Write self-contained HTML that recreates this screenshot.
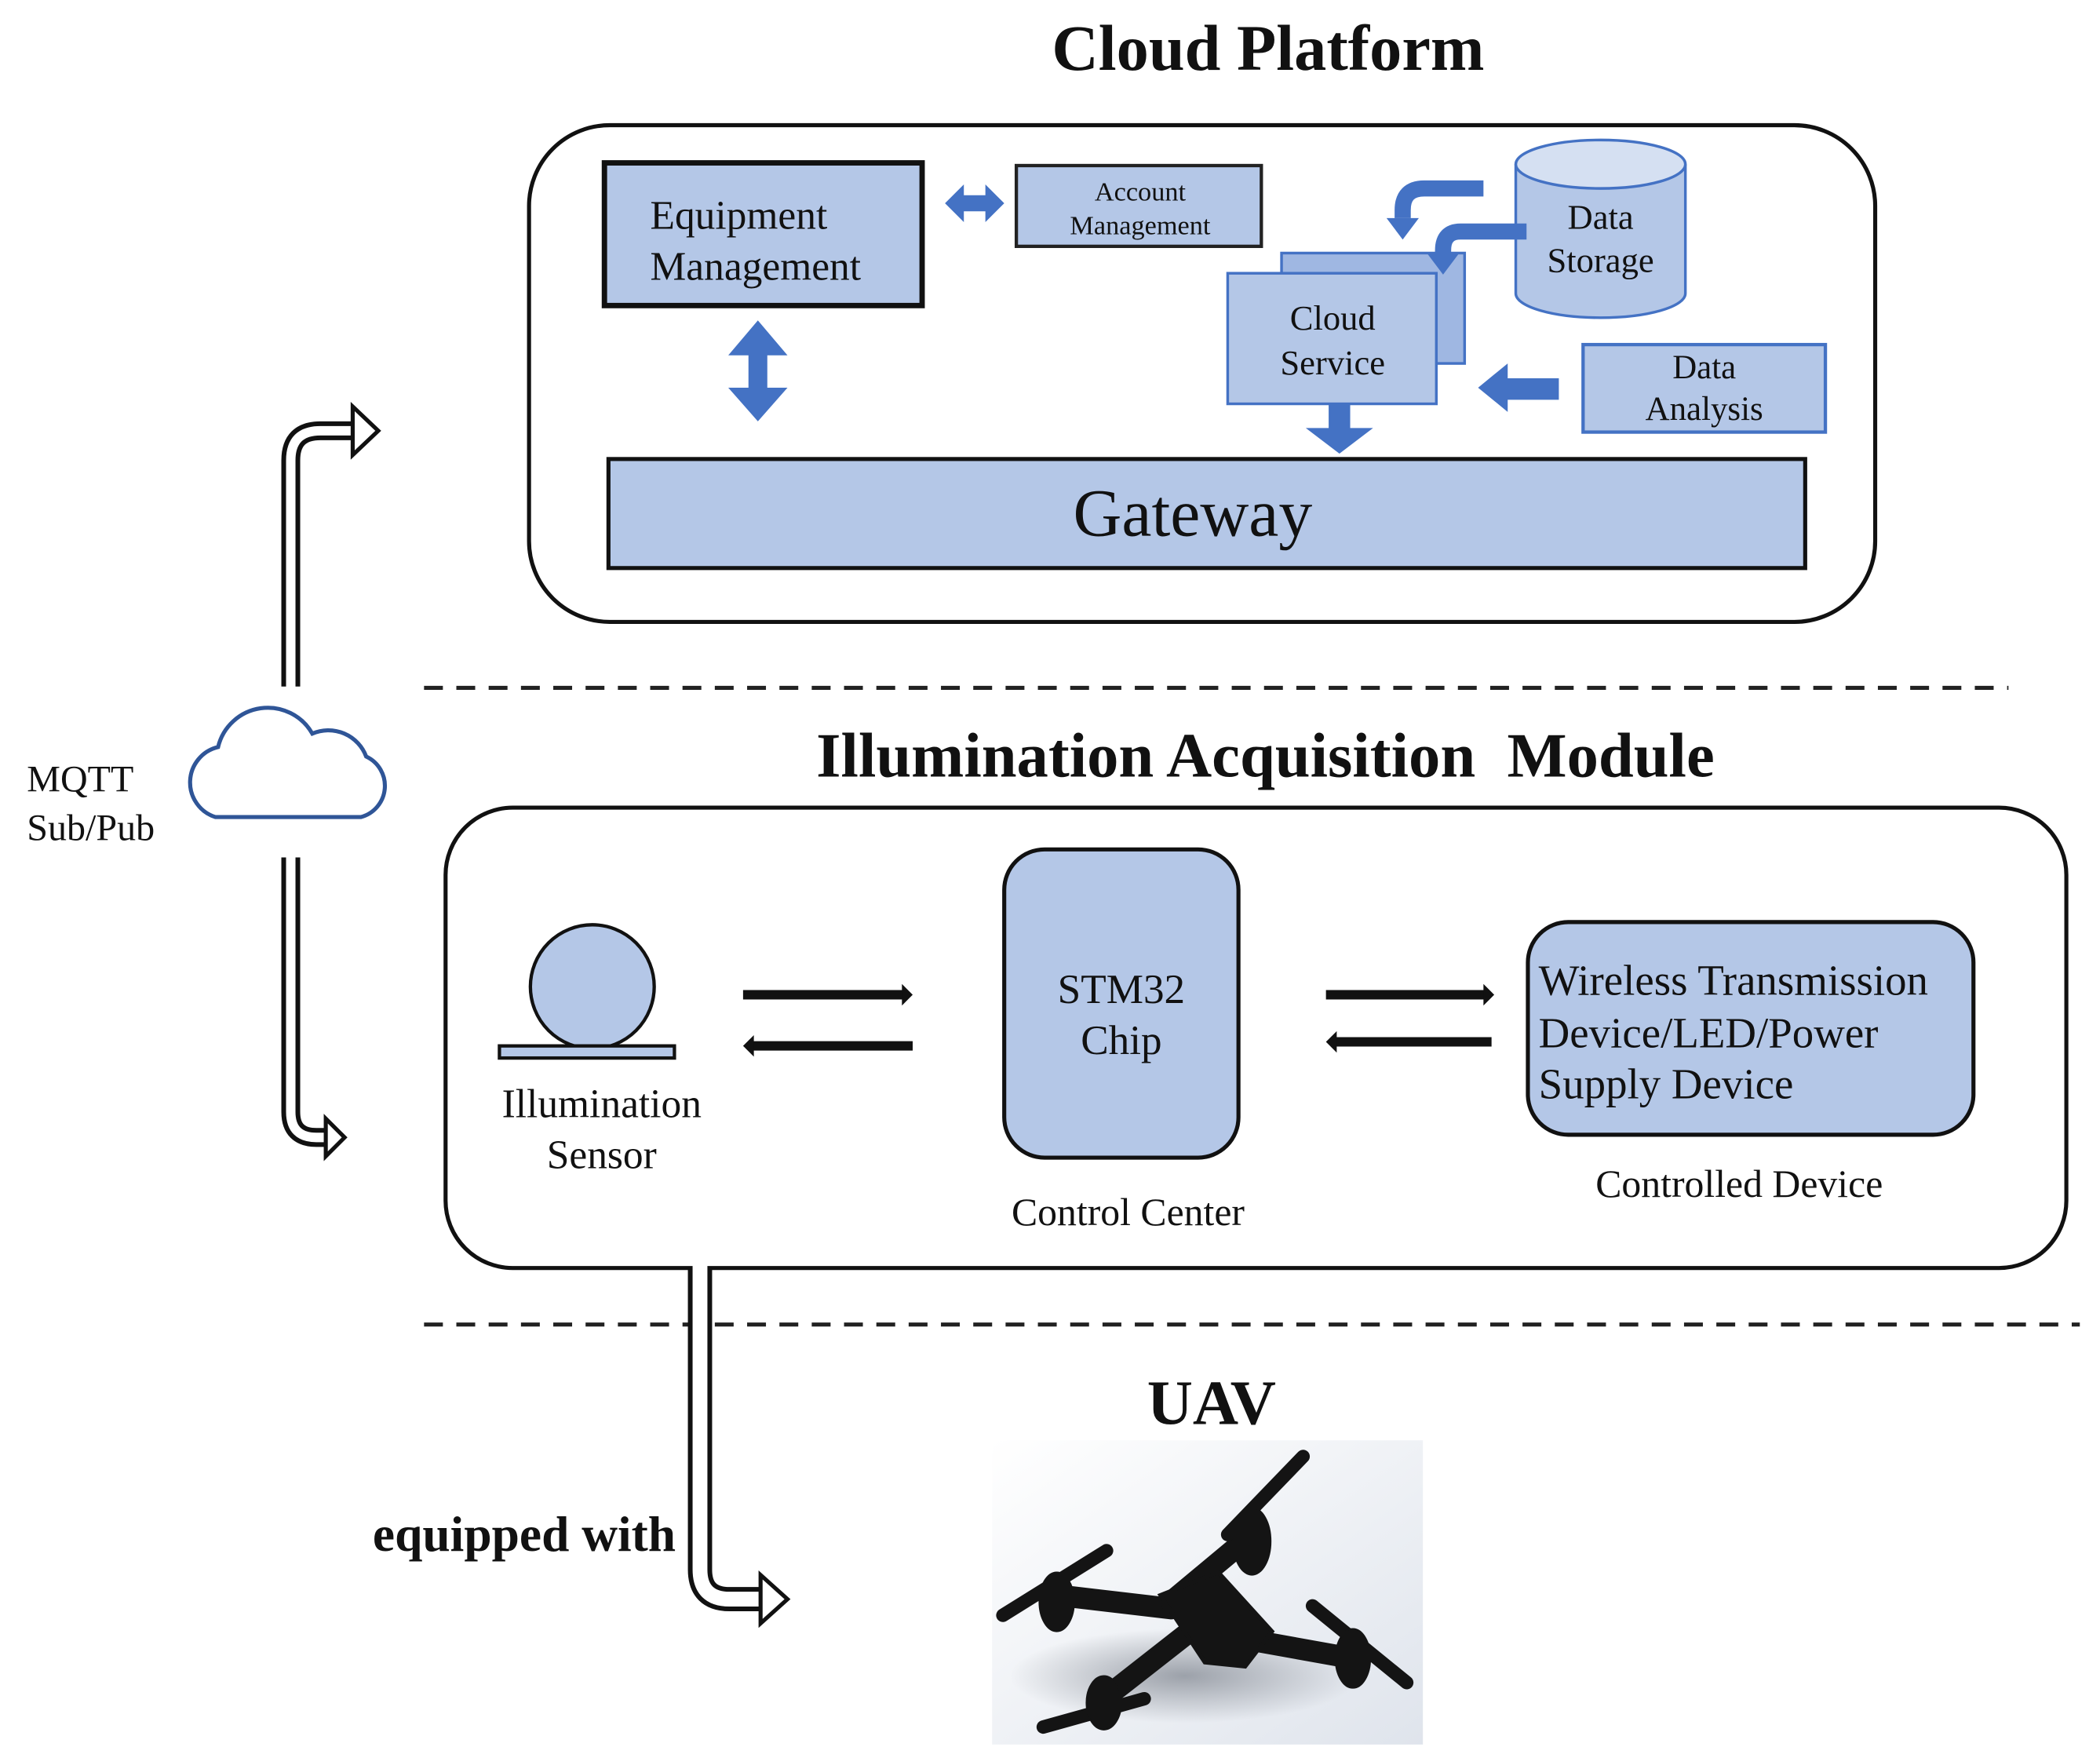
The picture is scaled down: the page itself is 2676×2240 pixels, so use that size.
<!DOCTYPE html>
<html><head><meta charset="utf-8"><style>
html,body{margin:0;padding:0;background:#fff;}
svg{display:block;}
text{font-family:"Liberation Serif",serif;fill:#111;}
</style></head><body>
<svg width="2676" height="2240" viewBox="0 0 1560 1306" preserveAspectRatio="none" xmlns="http://www.w3.org/2000/svg">
<defs>
<linearGradient id="bg" x1="0" y1="0" x2="1" y2="1">
<stop offset="0" stop-color="#ffffff"/><stop offset="1" stop-color="#dfe4ec"/>
</linearGradient>
<radialGradient id="sh" cx="0.5" cy="0.5" r="0.5">
<stop offset="0" stop-color="#7a808a" stop-opacity="0.7"/><stop offset="1" stop-color="#7a808a" stop-opacity="0"/>
</radialGradient>
</defs>
<!-- Cloud Platform -->
<text x="942" y="52" font-size="48" font-weight="bold" text-anchor="middle">Cloud Platform</text>
<rect x="393" y="93" width="1000" height="369" rx="60" fill="#fff" stroke="#111" stroke-width="3"/>
<rect x="449" y="121" width="236" height="106" fill="#b4c7e7" stroke="#111" stroke-width="4"/>
<text x="483" y="170" font-size="30">Equipment</text>
<text x="483" y="208" font-size="30">Management</text>
<rect x="755" y="123" width="182" height="60" fill="#b4c7e7" stroke="#222" stroke-width="2.5"/>
<text x="847" y="149" font-size="20" text-anchor="middle">Account</text>
<text x="847" y="174" font-size="20" text-anchor="middle">Management</text>
<polygon points="702,151 716,137 716,145 732,145 732,137 746,151 732,165 732,157 716,157 716,165" fill="#4472c4"/>
<polygon points="563,238 585,264 570,264 570,288 585,288 563,313 541,288 556,288 556,264 541,264" fill="#4472c4"/>
<rect x="952" y="188" width="136" height="82" fill="#9fb7e2" stroke="#4472c4" stroke-width="2"/>
<rect x="912" y="203" width="155" height="97" fill="#b4c7e7" stroke="#4472c4" stroke-width="2"/>
<text x="990" y="245" font-size="26" text-anchor="middle">Cloud</text>
<text x="990" y="278" font-size="26" text-anchor="middle">Service</text>
<path d="M1126 122 V218 A63 18 0 0 0 1252 218 V122" fill="#b4c7e7" stroke="#4472c4" stroke-width="2"/>
<ellipse cx="1189" cy="122" rx="63" ry="18" fill="#d5e0f2" stroke="#4472c4" stroke-width="2"/>
<text x="1189" y="170" font-size="26" text-anchor="middle">Data</text>
<text x="1189" y="202" font-size="26" text-anchor="middle">Storage</text>
<path d="M1102 140 H1058 Q1042 140 1042 156 V162" fill="none" stroke="#4472c4" stroke-width="12"/>
<polygon points="1030,162 1054,162 1042,178" fill="#4472c4"/>
<path d="M1134 172 H1085 Q1072 172 1072 186 V190" fill="none" stroke="#4472c4" stroke-width="12"/>
<polygon points="1060,188 1084,188 1072,204" fill="#4472c4"/>
<rect x="1176" y="256" width="180" height="65" fill="#b4c7e7" stroke="#4472c4" stroke-width="2.5"/>
<text x="1266" y="281" font-size="25" text-anchor="middle">Data</text>
<text x="1266" y="312" font-size="25" text-anchor="middle">Analysis</text>
<polygon points="1098,288 1120,270 1120,281 1158,281 1158,297 1120,297 1120,306" fill="#4472c4"/>
<polygon points="987,300 1003,300 1003,318 1020,318 995,337 970,318 987,318" fill="#4472c4"/>
<rect x="452" y="341" width="889" height="81" fill="#b4c7e7" stroke="#111" stroke-width="3"/>
<text x="886" y="398" font-size="50" text-anchor="middle">Gateway</text>
<line x1="315" y1="511" x2="1492" y2="511" stroke="#222" stroke-width="3" stroke-dasharray="14,10"/>
<line x1="315" y1="984" x2="1545" y2="984" stroke="#222" stroke-width="3" stroke-dasharray="14,10"/>
<text x="940" y="577" font-size="47" font-weight="bold" text-anchor="middle" xml:space="preserve">Illumination Acquisition  Module</text>
<rect x="331" y="600" width="1204" height="342" rx="50" fill="#fff" stroke="#111" stroke-width="3"/>
<circle cx="440" cy="733" r="46" fill="#b4c7e7" stroke="#111" stroke-width="2.5"/>
<rect x="371" y="777" width="130" height="9" fill="#b4c7e7" stroke="#111" stroke-width="2.5"/>
<text x="447" y="830" font-size="30" text-anchor="middle">Illumination</text>
<text x="447" y="868" font-size="30" text-anchor="middle">Sensor</text>
<line x1="552" y1="739" x2="672" y2="739" stroke="#111" stroke-width="7"/><polygon points="670,731 678,739 670,747" fill="#111"/>
<line x1="558" y1="777" x2="678" y2="777" stroke="#111" stroke-width="7"/><polygon points="560,769 552,777 560,785" fill="#111"/>
<line x1="985" y1="739" x2="1104" y2="739" stroke="#111" stroke-width="7"/><polygon points="1102,731 1110,739 1102,747" fill="#111"/>
<line x1="991" y1="774" x2="1108" y2="774" stroke="#111" stroke-width="7"/><polygon points="993,766 985,774 993,782" fill="#111"/>
<rect x="746" y="631" width="174" height="229" rx="30" fill="#b4c7e7" stroke="#111" stroke-width="3"/>
<text x="833" y="745" font-size="31" text-anchor="middle">STM32</text>
<text x="833" y="783" font-size="31" text-anchor="middle">Chip</text>
<text x="838" y="910" font-size="29" text-anchor="middle">Control Center</text>
<rect x="1135" y="685" width="331" height="158" rx="30" fill="#b4c7e7" stroke="#111" stroke-width="3"/>
<text x="1143" y="739" font-size="32">Wireless Transmission</text>
<text x="1143" y="778" font-size="32">Device/LED/Power</text>
<text x="1143" y="816" font-size="32">Supply Device</text>
<text x="1292" y="889" font-size="29" text-anchor="middle">Controlled Device</text>
<path d="M160 607 H268 A24 24 0 0 0 272 562 A30 30 0 0 0 232 545 A38 38 0 0 0 162 555 A27 27 0 0 0 160 607 Z" fill="#fff" stroke="#2f5597" stroke-width="3"/>
<text x="20" y="588" font-size="28">MQTT</text>
<text x="20" y="624" font-size="28">Sub/Pub</text>
<g fill="none" stroke-linejoin="round">
<path d="M216 510 V342 Q216 320 238 320 H264" stroke="#111" stroke-width="14"/>
<path d="M216 512 V342 Q216 320 238 320 H266" stroke="#fff" stroke-width="7"/>
<path d="M216 637 V826 Q216 845 235 845 H244" stroke="#111" stroke-width="14"/>
<path d="M216 635 V826 Q216 845 235 845 H246" stroke="#fff" stroke-width="7"/>
<path d="M520 942 V1166 Q520 1188 542 1188 H566" stroke="#111" stroke-width="18"/>
<path d="M520 940 V1166 Q520 1188 542 1188 H568" stroke="#fff" stroke-width="11"/>
</g>
<polygon points="262,302 281,320 262,338" fill="#fff" stroke="#111" stroke-width="3"/>
<polygon points="242,831 256,845 242,859" fill="#fff" stroke="#111" stroke-width="3"/>
<polygon points="565,1170 585,1188 565,1206" fill="#fff" stroke="#111" stroke-width="3"/>
<text x="502" y="1152" font-size="37" font-weight="bold" text-anchor="end">equipped with</text>
<text x="900" y="1058" font-size="47" font-weight="bold" text-anchor="middle">UAV</text>
<rect x="737" y="1070" width="320" height="226" fill="url(#bg)"/>
<ellipse cx="880" cy="1245" rx="130" ry="35" fill="url(#sh)"/>
<g fill="#141414" stroke="#141414" stroke-linecap="round">
<line x1="785" y1="1185" x2="870" y2="1195" stroke-width="16"/>
<line x1="870" y1="1190" x2="930" y2="1140" stroke-width="16"/>
<line x1="910" y1="1215" x2="1005" y2="1232" stroke-width="16"/>
<line x1="880" y1="1215" x2="820" y2="1262" stroke-width="16"/>
<polygon points="862,1185 905,1168 945,1212 925,1238 895,1235" stroke-width="3"/>
<line x1="745" y1="1200" x2="822" y2="1152" stroke-width="10"/>
<line x1="912" y1="1140" x2="968" y2="1082" stroke-width="10"/>
<line x1="975" y1="1193" x2="1045" y2="1250" stroke-width="10"/>
<line x1="775" y1="1283" x2="850" y2="1262" stroke-width="10"/>
<ellipse cx="930" cy="1145" rx="14" ry="25" stroke-width="1"/>
<ellipse cx="785" cy="1190" rx="13" ry="22" stroke-width="1"/>
<ellipse cx="1005" cy="1232" rx="13" ry="22" stroke-width="1"/>
<ellipse cx="820" cy="1265" rx="13" ry="20" stroke-width="1"/>
</g>
</svg>
</body></html>
